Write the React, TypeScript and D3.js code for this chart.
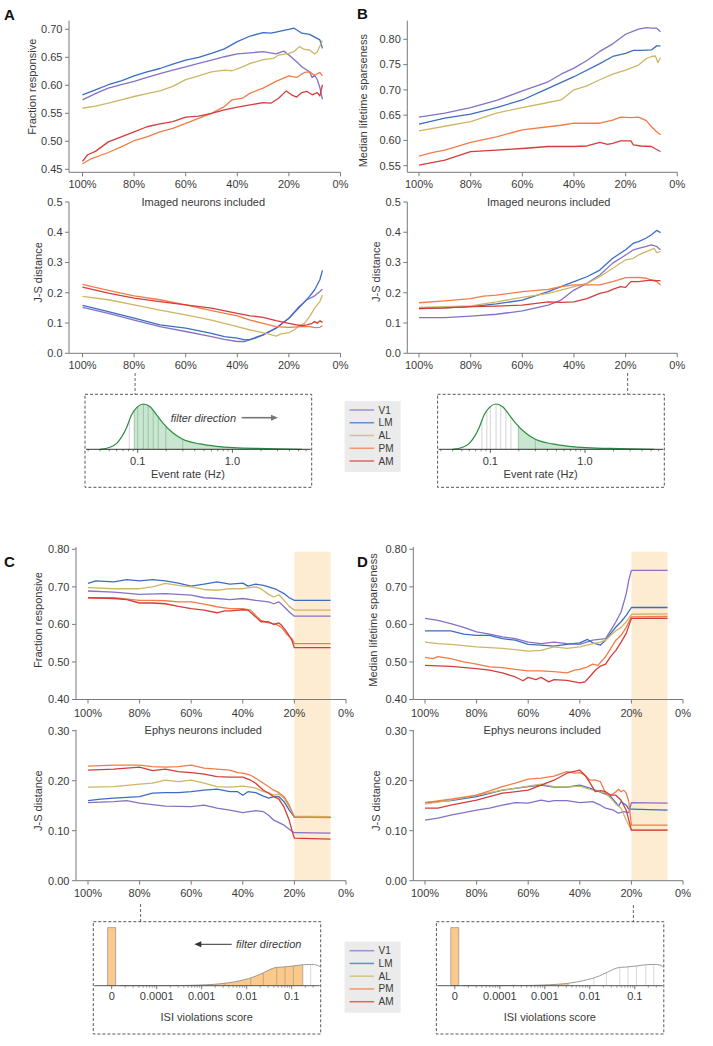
import React from "react";
import * as d3 from "d3";

type Pt = [number, number];

const AREAS = ["V1", "LM", "AL", "PM", "AM"];
const COLORS = ["#8571c6", "#3b6ec3", "#cdb665", "#f27c47", "#d53c3c"];

// ---------- Panel A (imaging, fraction responsive) ----------
const aFrV1: Pt[] = [[100,0.574],[95,0.585],[90,0.595],[85,0.601],[80,0.607],[75,0.614],[70,0.621],[65,0.627],[60,0.633],[55,0.639],[50,0.645],[45,0.651],[40,0.656],[35,0.658],[30,0.660],[25,0.656],[22,0.661],[20,0.654],[17,0.642],[15,0.633],[12,0.624],[11,0.614],[10,0.618],[9,0.610],[8,0.596],[7,0.575]];
const aFrLM: Pt[] = [[100,0.583],[95,0.592],[90,0.601],[85,0.608],[80,0.617],[75,0.624],[70,0.630],[65,0.638],[60,0.645],[55,0.650],[50,0.657],[45,0.665],[40,0.678],[35,0.688],[30,0.694],[27,0.693],[25,0.695],[22,0.698],[20,0.700],[18,0.702],[16,0.696],[15,0.693],[12,0.691],[10,0.686],[8,0.681],[7,0.666]];
const aFrAL: Pt[] = [[100,0.559],[95,0.563],[90,0.568],[85,0.574],[80,0.580],[75,0.585],[70,0.590],[65,0.598],[60,0.610],[55,0.617],[50,0.624],[45,0.627],[42,0.626],[38,0.633],[35,0.639],[30,0.646],[26,0.648],[24,0.654],[20,0.657],[18,0.660],[16,0.669],[14,0.664],[12,0.663],[10,0.656],[9,0.660],[7,0.680]];
const aFrPM: Pt[] = [[100,0.460],[97,0.468],[90,0.480],[85,0.490],[80,0.501],[75,0.508],[70,0.517],[65,0.523],[60,0.532],[55,0.541],[50,0.550],[45,0.562],[42,0.574],[38,0.577],[35,0.586],[30,0.595],[25,0.607],[20,0.617],[17,0.614],[14,0.623],[12,0.624],[10,0.618],[8,0.623],[7,0.617]];
const aFrAM: Pt[] = [[100,0.464],[98,0.476],[95,0.482],[90,0.499],[85,0.508],[80,0.517],[75,0.526],[70,0.531],[65,0.535],[60,0.543],[55,0.545],[50,0.550],[45,0.556],[40,0.561],[35,0.565],[30,0.569],[27,0.568],[24,0.577],[21,0.590],[19,0.583],[17,0.579],[15,0.587],[13,0.589],[11,0.583],[9,0.587],[8,0.581],[7,0.601]];

const aJsV1: Pt[] = [[100,0.152],[90,0.132],[80,0.110],[70,0.088],[60,0.072],[50,0.055],[45,0.046],[40,0.039],[37,0.039],[33,0.050],[30,0.061],[25,0.083],[20,0.116],[16,0.155],[13,0.177],[10,0.190],[8,0.204],[7,0.212]];
const aJsLM: Pt[] = [[100,0.158],[90,0.138],[80,0.116],[70,0.094],[60,0.083],[50,0.066],[45,0.055],[40,0.050],[37,0.044],[35,0.046],[30,0.061],[25,0.083],[20,0.116],[15,0.160],[12,0.188],[10,0.210],[8,0.243],[7,0.274]];
const aJsAL: Pt[] = [[100,0.188],[90,0.177],[80,0.160],[70,0.143],[60,0.127],[50,0.110],[40,0.088],[35,0.077],[32,0.072],[28,0.064],[25,0.057],[23,0.064],[20,0.068],[18,0.077],[16,0.091],[14,0.099],[12,0.121],[10,0.149],[8,0.171],[7,0.193]];
const aJsPM: Pt[] = [[100,0.228],[90,0.208],[80,0.190],[70,0.177],[60,0.160],[50,0.141],[40,0.124],[35,0.110],[30,0.099],[25,0.088],[20,0.086],[15,0.088],[12,0.088],[10,0.085],[8,0.086],[7,0.091]];
const aJsAM: Pt[] = [[100,0.219],[90,0.199],[80,0.182],[70,0.171],[60,0.160],[50,0.149],[40,0.132],[35,0.124],[30,0.119],[25,0.108],[20,0.099],[17,0.094],[15,0.091],[13,0.094],[11,0.099],[10,0.105],[9,0.099],[8,0.107],[7,0.102]];

// ---------- Panel B (imaging, lifetime sparseness) ----------
const bLsV1: Pt[] = [[100,0.646],[90,0.654],[80,0.665],[70,0.679],[60,0.698],[50,0.716],[45,0.731],[40,0.743],[35,0.758],[30,0.776],[25,0.791],[20,0.810],[17,0.816],[15,0.820],[12,0.823],[10,0.822],[8,0.822],[6.5,0.815]];
const bLsLM: Pt[] = [[100,0.632],[90,0.644],[80,0.652],[70,0.665],[60,0.680],[50,0.703],[40,0.726],[30,0.752],[25,0.766],[20,0.772],[17,0.778],[14,0.778],[10,0.779],[8,0.787],[6.5,0.787]];
const bLsAL: Pt[] = [[100,0.619],[90,0.628],[80,0.637],[70,0.654],[60,0.665],[50,0.675],[45,0.680],[40,0.700],[35,0.708],[30,0.720],[25,0.731],[20,0.739],[15,0.749],[12,0.762],[10,0.766],[8.5,0.767],[7.5,0.754],[6.5,0.764]];
const bLsPM: Pt[] = [[100,0.569],[95,0.576],[90,0.581],[80,0.596],[70,0.607],[60,0.621],[50,0.627],[45,0.630],[40,0.634],[30,0.634],[25,0.640],[22,0.646],[18,0.645],[15,0.646],[12,0.639],[10,0.627],[8,0.617],[6.5,0.611]];
const bLsAM: Pt[] = [[100,0.551],[90,0.561],[80,0.578],[70,0.581],[60,0.584],[50,0.588],[40,0.588],[35,0.589],[30,0.596],[27,0.592],[25,0.594],[22,0.599],[18,0.599],[17,0.591],[14,0.589],[10,0.588],[8,0.582],[6.5,0.578]];

const bJsV1: Pt[] = [[100,0.118],[90,0.118],[80,0.123],[70,0.129],[60,0.140],[50,0.159],[45,0.176],[40,0.209],[35,0.231],[30,0.259],[25,0.298],[20,0.325],[17,0.342],[15,0.347],[12,0.353],[10,0.358],[8,0.353],[6.5,0.342]];
const bJsLM: Pt[] = [[100,0.148],[90,0.150],[80,0.154],[70,0.163],[60,0.176],[50,0.204],[40,0.237],[35,0.253],[30,0.275],[25,0.314],[20,0.342],[17,0.364],[15,0.369],[12,0.381],[10,0.392],[8,0.406],[6.5,0.399]];
const bJsAL: Pt[] = [[100,0.152],[90,0.154],[80,0.157],[70,0.170],[60,0.185],[50,0.198],[45,0.209],[40,0.220],[35,0.231],[30,0.253],[25,0.281],[20,0.309],[17,0.314],[15,0.325],[12,0.336],[9,0.347],[8,0.333],[6.5,0.336]];
const bJsPM: Pt[] = [[100,0.167],[90,0.173],[80,0.181],[75,0.189],[70,0.192],[60,0.204],[50,0.211],[45,0.220],[40,0.226],[35,0.226],[30,0.226],[25,0.237],[20,0.250],[15,0.251],[12,0.248],[10,0.242],[8,0.237],[6.5,0.226]];
const bJsAM: Pt[] = [[100,0.148],[90,0.150],[80,0.154],[70,0.156],[60,0.159],[50,0.170],[45,0.168],[40,0.170],[35,0.181],[30,0.198],[27,0.204],[25,0.211],[22,0.220],[20,0.218],[18,0.237],[15,0.237],[12,0.240],[10,0.242],[8,0.240],[6.5,0.240]];

// ---------- Panel C (ephys, fraction responsive) ----------
const cFrV1: Pt[] = [[100,0.689],[90,0.686],[80,0.680],[70,0.682],[60,0.678],[55,0.671],[50,0.669],[45,0.666],[40,0.669],[35,0.664],[30,0.660],[28,0.655],[26,0.660],[24,0.647],[22,0.633],[20,0.622],[6,0.622]];
const cFrLM: Pt[] = [[100,0.709],[97,0.716],[90,0.713],[85,0.719],[80,0.716],[75,0.719],[70,0.716],[65,0.710],[60,0.702],[55,0.707],[50,0.713],[45,0.707],[40,0.710],[38,0.702],[35,0.707],[32,0.704],[30,0.700],[27,0.693],[24,0.682],[22,0.671],[20,0.664],[6,0.664]];
const cFrAL: Pt[] = [[100,0.698],[90,0.695],[80,0.695],[75,0.700],[70,0.709],[65,0.704],[60,0.700],[55,0.693],[50,0.691],[45,0.695],[40,0.695],[35,0.700],[33,0.695],[30,0.680],[28,0.673],[26,0.679],[24,0.664],[22,0.648],[20,0.638],[6,0.638]];
const cFrPM: Pt[] = [[100,0.671],[90,0.671],[80,0.664],[75,0.664],[70,0.663],[65,0.660],[60,0.660],[55,0.654],[50,0.647],[45,0.642],[40,0.642],[37,0.638],[35,0.624],[33,0.611],[30,0.604],[27,0.600],[25,0.592],[23,0.574],[21,0.562],[20,0.549],[6,0.549]];
const cFrAM: Pt[] = [[100,0.671],[90,0.669],[85,0.666],[80,0.657],[75,0.657],[70,0.655],[65,0.648],[60,0.642],[55,0.638],[50,0.631],[47,0.636],[45,0.636],[40,0.639],[38,0.638],[35,0.620],[33,0.607],[30,0.607],[28,0.600],[26,0.604],[25,0.598],[23,0.580],[21,0.558],[20,0.538],[6,0.538]];

const cJsV1: Pt[] = [[100,0.156],[90,0.158],[85,0.160],[80,0.155],[70,0.149],[60,0.148],[55,0.151],[50,0.145],[45,0.141],[40,0.136],[35,0.140],[32,0.138],[30,0.131],[28,0.121],[26,0.116],[24,0.111],[22,0.103],[20,0.096],[6,0.095]];
const cJsLM: Pt[] = [[100,0.160],[95,0.163],[90,0.165],[80,0.168],[75,0.175],[70,0.176],[65,0.176],[60,0.178],[55,0.181],[50,0.183],[45,0.178],[42,0.178],[40,0.171],[38,0.178],[35,0.176],[32,0.169],[30,0.165],[28,0.168],[26,0.168],[24,0.158],[22,0.141],[20,0.127],[6,0.127]];
const cJsAL: Pt[] = [[100,0.187],[90,0.188],[80,0.193],[75,0.195],[70,0.201],[65,0.198],[60,0.201],[55,0.195],[50,0.188],[45,0.187],[40,0.189],[37,0.187],[35,0.185],[32,0.178],[30,0.176],[28,0.171],[26,0.173],[24,0.165],[22,0.148],[20,0.129],[6,0.128]];
const cJsPM: Pt[] = [[100,0.229],[90,0.231],[80,0.231],[75,0.228],[70,0.227],[65,0.228],[60,0.231],[55,0.225],[50,0.223],[45,0.221],[42,0.216],[40,0.215],[37,0.211],[35,0.205],[32,0.195],[30,0.188],[28,0.181],[26,0.176],[24,0.168],[22,0.151],[20,0.127],[6,0.126]];
const cJsAM: Pt[] = [[100,0.221],[90,0.223],[80,0.227],[75,0.220],[70,0.223],[65,0.218],[60,0.216],[55,0.213],[50,0.208],[45,0.207],[40,0.207],[37,0.201],[35,0.195],[32,0.181],[30,0.175],[28,0.168],[26,0.163],[24,0.147],[22,0.121],[21,0.101],[20,0.085],[6,0.083]];

// ---------- Panel D (ephys, lifetime sparseness) ----------
const dLsV1: Pt[] = [[100,0.616],[95,0.611],[90,0.602],[85,0.592],[80,0.580],[75,0.574],[70,0.567],[65,0.562],[60,0.553],[55,0.549],[50,0.553],[45,0.549],[40,0.547],[35,0.558],[30,0.562],[28,0.584],[26,0.607],[24,0.633],[22,0.682],[21,0.718],[20,0.744],[6,0.744]];
const dLsLM: Pt[] = [[100,0.583],[90,0.583],[85,0.574],[80,0.571],[75,0.571],[70,0.562],[65,0.558],[60,0.547],[55,0.545],[50,0.542],[45,0.547],[40,0.551],[37,0.560],[35,0.551],[32,0.545],[30,0.558],[28,0.576],[26,0.593],[24,0.607],[22,0.624],[20,0.645],[6,0.645]];
const dLsAL: Pt[] = [[100,0.553],[95,0.549],[90,0.547],[80,0.540],[70,0.536],[65,0.533],[60,0.529],[55,0.531],[50,0.540],[45,0.536],[40,0.540],[35,0.549],[32,0.553],[30,0.558],[28,0.571],[26,0.583],[24,0.592],[22,0.607],[20,0.627],[6,0.628]];
const dLsPM: Pt[] = [[100,0.512],[97,0.509],[95,0.514],[90,0.509],[85,0.500],[80,0.494],[75,0.487],[70,0.485],[65,0.480],[60,0.476],[55,0.476],[50,0.474],[45,0.471],[42,0.478],[40,0.480],[37,0.487],[35,0.494],[33,0.491],[30,0.514],[28,0.536],[26,0.558],[24,0.571],[22,0.592],[20,0.620],[6,0.621]];
const dLsAM: Pt[] = [[100,0.491],[90,0.488],[80,0.482],[75,0.478],[70,0.471],[65,0.460],[62,0.450],[60,0.459],[57,0.453],[55,0.459],[52,0.447],[50,0.453],[45,0.451],[40,0.444],[38,0.447],[36,0.462],[34,0.478],[32,0.489],[30,0.494],[28,0.515],[26,0.531],[24,0.553],[22,0.576],[20,0.616],[6,0.616]];

const dJsV1: Pt[] = [[100,0.121],[95,0.125],[90,0.131],[80,0.141],[75,0.145],[70,0.151],[65,0.156],[60,0.155],[55,0.161],[52,0.158],[50,0.160],[45,0.160],[40,0.156],[35,0.158],[32,0.151],[30,0.145],[27,0.141],[25,0.135],[23,0.138],[21,0.136],[20,0.156],[6,0.155]];
const dJsLM: Pt[] = [[100,0.156],[90,0.160],[80,0.168],[70,0.181],[60,0.188],[55,0.191],[50,0.187],[45,0.187],[40,0.191],[35,0.183],[30,0.173],[28,0.168],[26,0.156],[25,0.149],[24,0.158],[22,0.151],[21,0.143],[20,0.143],[6,0.141]];
const dJsAL: Pt[] = [[100,0.153],[90,0.161],[80,0.171],[70,0.181],[60,0.189],[55,0.193],[50,0.188],[45,0.187],[40,0.189],[35,0.181],[30,0.175],[28,0.165],[26,0.153],[24,0.145],[22,0.121],[20,0.101],[6,0.101]];
const dJsPM: Pt[] = [[100,0.156],[90,0.163],[80,0.171],[70,0.188],[65,0.195],[60,0.203],[55,0.205],[50,0.209],[45,0.218],[42,0.215],[40,0.216],[38,0.211],[36,0.201],[34,0.201],[32,0.198],[30,0.175],[28,0.171],[26,0.178],[25,0.183],[24,0.178],[23,0.181],[22,0.175],[21,0.158],[20,0.111],[6,0.111]];
const dJsAM: Pt[] = [[100,0.145],[95,0.145],[90,0.151],[80,0.161],[70,0.175],[60,0.181],[55,0.191],[50,0.201],[45,0.215],[40,0.221],[38,0.211],[36,0.195],[34,0.178],[32,0.180],[30,0.178],[28,0.171],[26,0.171],[24,0.161],[22,0.141],[21,0.121],[20,0.101],[6,0.101]];

// ---------- Inset distributions ----------
const RATE_X = [0.040, 0.051, 0.060, 0.068, 0.077, 0.086, 0.098, 0.115, 0.135, 0.159, 0.186, 0.238, 0.299, 0.455, 0.682, 1.02, 2.30, 5.40];
const RATE_D = [0, 0.044, 0.132, 0.279, 0.5, 0.757, 0.926, 1.0, 0.941, 0.757, 0.574, 0.353, 0.221, 0.118, 0.066, 0.037, 0.015, 0];
const RATE_DECILES = [0.0815, 0.092, 0.100, 0.115, 0.129, 0.146, 0.165, 0.198, 0.299];
const RATE_TICKS = [0.1, 1];
const RATE_TICK_LABELS = ["0.1", "1.0"];

const ISI_X = [1.5e-5, 3.2e-4, 9.1e-4, 3.6e-3, 7.1e-3, 0.0167, 0.0234, 0.0464, 0.065, 0.109, 0.181, 0.278, 0.36, 0.44];
const ISI_D = [0, 0.003, 0.011, 0.046, 0.086, 0.172, 0.224, 0.316, 0.322, 0.340, 0.362, 0.367, 0.357, 0.322];
const ISI_ZERO_FRACTION = 1;
const ISI_DECILES = [0.0033, 0.0123, 0.0234, 0.0464, 0.071, 0.109, 0.176, 0.264];
const ISI_TICKS = [1e-5, 1e-4, 1e-3, 1e-2, 1e-1];
const ISI_TICK_LABELS = ["0", "0.0001", "0.001", "0.01", "0.1"];

const X_TICKS = [100, 80, 60, 40, 20, 0];

const FONT = "'Liberation Sans', Arial, Helvetica, sans-serif";
const AXIS = "#7a7a7a";
const TEXT = "#3a3a3a";

type PanelCfg = {
  yAxisX: number; x100: number; x0: number; xAxisY: number; yTop: number;
  yDom: [number, number]; yRange: [number, number]; ticks: number[]; fmt: string;
  series: Pt[][]; xTitle: string; xTitleX: number; xTitleY: number;
  yTitle: string; yTitleX: number; yTitleY: number; labelDy: number;
};

function LinePanel({ c }: { c: PanelCfg }) {
  const x = d3.scaleLinear().domain([100, 0]).range([c.x100, c.x0]);
  const y = d3.scaleLinear().domain(c.yDom).range(c.yRange);
  const line = d3.line<Pt>().x(d => x(d[0])).y(d => y(d[1]));
  const f = d3.format(c.fmt);
  return (
    <g>
      <line x1={c.yAxisX} x2={c.yAxisX} y1={c.xAxisY} y2={c.yTop} stroke={AXIS} strokeWidth={1} />
      <line x1={c.yAxisX} x2={x(0)} y1={c.xAxisY} y2={c.xAxisY} stroke={AXIS} strokeWidth={1} />
      {c.ticks.map(t => (
        <g key={"y" + t}>
          <line x1={c.yAxisX - 4} x2={c.yAxisX} y1={y(t)} y2={y(t)} stroke={AXIS} />
          <text x={c.yAxisX - 6.5} y={y(t)} dy="0.35em" textAnchor="end" fontSize={11} fill={TEXT}>{f(t)}</text>
        </g>
      ))}
      {X_TICKS.map(p => (
        <g key={"x" + p}>
          <line x1={x(p)} x2={x(p)} y1={c.xAxisY} y2={c.xAxisY + 4} stroke={AXIS} />
          <text x={x(p)} y={c.xAxisY + c.labelDy} dy="0.35em" textAnchor="middle" fontSize={11} fill={TEXT}>{p + "%"}</text>
        </g>
      ))}
      {c.series.map((s, i) => (
        <path key={i} d={line(s) || ""} fill="none" stroke={COLORS[i]} strokeWidth={1.3} strokeLinejoin="round" />
      ))}
      <text x={c.xTitleX} y={c.xTitleY} dy="0.35em" textAnchor="middle" fontSize={11} fill={TEXT}>{c.xTitle}</text>
      <text transform={`translate(${c.yTitleX},${c.yTitleY}) rotate(-90)`} dy="0.35em" textAnchor="middle" fontSize={11} fill={TEXT}>{c.yTitle}</text>
    </g>
  );
}

function Legend({ x, y }: { x: number; y: number }) {
  return (
    <g>
      <rect x={x} y={y} width={56} height={71} fill="#ebebeb" />
      {AREAS.map((a, i) => (
        <g key={a}>
          <line x1={x + 5} x2={x + 29.5} y1={y + 9 + i * 12.75} y2={y + 9 + i * 12.75} stroke={COLORS[i]} strokeOpacity={0.75} strokeWidth={1.5} />
          <text x={x + 34} y={y + 9 + i * 12.75} dy="0.35em" fontSize={10} fill={TEXT}>{a}</text>
        </g>
      ))}
    </g>
  );
}

function Arrow({ x1, x2, y, color, w }: { x1: number; x2: number; y: number; color: string; w: number }) {
  const dir = Math.sign(x2 - x1);
  return (
    <g>
      <line x1={x1} x2={x2 - dir * 5} y1={y} y2={y} stroke={color} strokeWidth={w} />
      <path d={`M${x2},${y} L${x2 - dir * 7},${y - 3} L${x2 - dir * 7},${y + 3} Z`} fill={color} />
    </g>
  );
}

function RateInset({ bx, by, shadeFrom, id, arrow }: { bx: number; by: number; shadeFrom: number; id: string; arrow: boolean }) {
  const W = 226.7, H = 93;
  const base = by + 55;
  const x = d3.scaleLog().domain([0.1, 1]).range([bx + 52.7, bx + 147.4]);
  const y = d3.scaleLinear().domain([0, 1]).range([base, base - 45.3]);
  const pts = RATE_X.map((r, i) => [r, RATE_D[i]] as Pt);
  const area = d3.area<Pt>().x(d => x(d[0])).y0(base).y1(d => y(d[1])).curve(d3.curveMonotoneX);
  const line = d3.line<Pt>().x(d => x(d[0])).y(d => y(d[1])).curve(d3.curveMonotoneX);
  const xs = x(shadeFrom);
  const minor: number[] = [];
  for (const dec of [0.01, 0.1, 1]) for (let k = 2; k <= 9; k++) {
    const v = dec * k; const px = x(v);
    if (px > bx + 2 && px < bx + W - 2) minor.push(v);
  }
  return (
    <g>
      <defs>
        <clipPath id={id + "area"}><path d={area(pts) || ""} /></clipPath>
        <clipPath id={id + "shade"}><rect x={xs} y={by} width={bx + W - xs} height={H} /></clipPath>
      </defs>
      <rect x={bx} y={by} width={W} height={H} fill="none" stroke="#444" strokeWidth={0.9} strokeDasharray="3,2" />
      <path d={area(pts) || ""} fill="#c9e6d0" clipPath={`url(#${id}shade)`} />
      <g clipPath={`url(#${id}area)`}>
        {RATE_DECILES.map(q => (
          <line key={q} x1={x(q)} x2={x(q)} y1={base} y2={base - 50} stroke={q >= shadeFrom - 1e-9 ? "#98c3a2" : "#cfcfcf"} strokeWidth={0.9} />
        ))}
      </g>
      <path d={line(pts) || ""} fill="none" stroke="#2b8f41" strokeWidth={1.2} />
      <line x1={bx + 1} x2={bx + W - 1} y1={base} y2={base} stroke="#333" strokeWidth={1} />
      {minor.map(v => <line key={v} x1={x(v)} x2={x(v)} y1={base} y2={base + 2} stroke="#333" strokeWidth={0.6} />)}
      {RATE_TICKS.map((t, i) => (
        <g key={t}>
          <line x1={x(t)} x2={x(t)} y1={base} y2={base + 3.5} stroke="#333" strokeWidth={0.8} />
          <text x={x(t)} y={base + 11.5} dy="0.35em" textAnchor="middle" fontSize={11} fill={TEXT}>{RATE_TICK_LABELS[i]}</text>
        </g>
      ))}
      <text x={bx + 103} y={base + 25} dy="0.35em" textAnchor="middle" fontSize={11} fill={TEXT}>Event rate (Hz)</text>
      {arrow && (
        <g>
          <text x={bx + 85.7} y={by + 23.4} dy="0.35em" fontSize={11} fontStyle="italic" fill={TEXT}>filter direction</text>
          <Arrow x1={bx + 156.7} x2={bx + 193} y={by + 23.4} color="#777" w={1.6} />
        </g>
      )}
    </g>
  );
}

function IsiInset({ bx, by, shadeTo, id, arrow }: { bx: number; by: number; shadeTo: number; id: string; arrow: boolean }) {
  const W = 227.4, H = 112.3;
  const base = by + 64;
  const x = d3.scaleLog().domain([1e-4, 1e-1]).range([bx + 63.4, bx + 198.4]);
  const y = d3.scaleLinear().domain([0, 1]).range([base, base - 58]);
  const pts = ISI_X.map((r, i) => [r, ISI_D[i]] as Pt);
  const area = d3.area<Pt>().x(d => x(d[0])).y0(base).y1(d => y(d[1])).curve(d3.curveMonotoneX);
  const line = d3.line<Pt>().x(d => x(d[0])).y(d => y(d[1])).curve(d3.curveMonotoneX);
  const xe = x(shadeTo);
  const minor: number[] = [];
  for (const dec of [1e-5, 1e-4, 1e-3, 1e-2, 1e-1]) for (let k = 2; k <= 9; k++) {
    const v = dec * k; const px = x(v);
    if (px > bx + 2 && px < bx + W - 2) minor.push(v);
  }
  const zx = x(1e-5);
  return (
    <g>
      <defs>
        <clipPath id={id + "area"}><path d={area(pts) || ""} /></clipPath>
        <clipPath id={id + "shade"}><rect x={bx} y={by} width={xe - bx} height={H} /></clipPath>
      </defs>
      <rect x={bx} y={by} width={W} height={H} fill="none" stroke="#444" strokeWidth={0.9} strokeDasharray="3,2" />
      <rect x={zx - 4} y={y(ISI_ZERO_FRACTION)} width={8} height={base - y(ISI_ZERO_FRACTION)} fill="#fdc98a" stroke="#9a9a9a" strokeWidth={0.8} />
      <path d={area(pts) || ""} fill="#fdc98a" clipPath={`url(#${id}shade)`} />
      <g clipPath={`url(#${id}area)`}>
        {ISI_DECILES.map(q => (
          <line key={q} x1={x(q)} x2={x(q)} y1={base} y2={base - 30} stroke={q <= shadeTo + 1e-12 ? "#b3a58f" : "#d6d6d6"} strokeWidth={0.9} />
        ))}
      </g>
      <path d={line(pts) || ""} fill="none" stroke="#9a9a9a" strokeWidth={1} />
      <line x1={bx + 1} x2={bx + W - 1} y1={base} y2={base} stroke="#555" strokeWidth={1} />
      {minor.map(v => <line key={v} x1={x(v)} x2={x(v)} y1={base} y2={base + 2} stroke="#555" strokeWidth={0.6} />)}
      {ISI_TICKS.map((t, i) => (
        <g key={t}>
          <line x1={x(t)} x2={x(t)} y1={base} y2={base + 3.5} stroke="#555" strokeWidth={0.8} />
          <text x={x(t)} y={base + 10} dy="0.35em" textAnchor="middle" fontSize={11} fill={TEXT}>{ISI_TICK_LABELS[i]}</text>
        </g>
      ))}
      <text x={bx + 113.4} y={base + 31.6} dy="0.35em" textAnchor="middle" fontSize={11} fill={TEXT}>ISI violations score</text>
      {arrow && (
        <g>
          <text x={bx + 142.7} y={by + 22.6} dy="0.35em" fontSize={11} fontStyle="italic" fill={TEXT}>filter direction</text>
          <Arrow x1={bx + 138.4} x2={bx + 101} y={by + 22.6} color="#333" w={1} />
        </g>
      )}
    </g>
  );
}

const panelA1: PanelCfg = { yAxisX: 69, x100: 82.5, x0: 340.5, xAxisY: 172.3, yTop: 20.7, yDom: [0.45, 0.70], yRange: [169.3, 29.3], ticks: [0.45, 0.50, 0.55, 0.60, 0.65, 0.70], fmt: ".2f", series: [aFrV1, aFrLM, aFrAL, aFrPM, aFrAM], xTitle: "Imaged neurons included", xTitleX: 203.3, xTitleY: 201.7, yTitle: "Fraction responsive", yTitleX: 31.7, yTitleY: 86.7, labelDy: 12 };
const panelA2: PanelCfg = { yAxisX: 69, x100: 82.5, x0: 340.5, xAxisY: 353.3, yTop: 202, yDom: [0, 0.5], yRange: [353.3, 202], ticks: [0, 0.1, 0.2, 0.3, 0.4, 0.5], fmt: ".1f", series: [aJsV1, aJsLM, aJsAL, aJsPM, aJsAM], xTitle: "", xTitleX: 0, xTitleY: 0, yTitle: "J-S distance", yTitleX: 38.3, yTitleY: 272.5, labelDy: 12 };
const panelB1: PanelCfg = { yAxisX: 407.3, x100: 419, x0: 677.3, xAxisY: 172.3, yTop: 20.7, yDom: [0.55, 0.80], yRange: [165.7, 39.3], ticks: [0.55, 0.60, 0.65, 0.70, 0.75, 0.80], fmt: ".2f", series: [bLsV1, bLsLM, bLsAL, bLsPM, bLsAM], xTitle: "Imaged neurons included", xTitleX: 548.7, xTitleY: 201.7, yTitle: "Median lifetime sparseness", yTitleX: 363.3, yTitleY: 100.7, labelDy: 12 };
const panelB2: PanelCfg = { yAxisX: 407.3, x100: 419, x0: 677.3, xAxisY: 353.3, yTop: 202, yDom: [0, 0.5], yRange: [353.3, 202], ticks: [0, 0.1, 0.2, 0.3, 0.4, 0.5], fmt: ".1f", series: [bJsV1, bJsLM, bJsAL, bJsPM, bJsAM], xTitle: "", xTitleX: 0, xTitleY: 0, yTitle: "J-S distance", yTitleX: 375.7, yTitleY: 271.7, labelDy: 12 };
const panelC1: PanelCfg = { yAxisX: 76, x100: 88, x0: 346, xAxisY: 699.5, yTop: 547, yDom: [0.40, 0.80], yRange: [699.5, 549.3], ticks: [0.40, 0.50, 0.60, 0.70, 0.80], fmt: ".2f", series: [cFrV1, cFrLM, cFrAL, cFrPM, cFrAM], xTitle: "Ephys neurons included", xTitleX: 203.3, xTitleY: 730, yTitle: "Fraction responsive", yTitleX: 38.3, yTitleY: 620, labelDy: 13.5 };
const panelC2: PanelCfg = { yAxisX: 76, x100: 88, x0: 346, xAxisY: 880.7, yTop: 730, yDom: [0, 0.30], yRange: [880.7, 730.7], ticks: [0, 0.10, 0.20, 0.30], fmt: ".2f", series: [cJsV1, cJsLM, cJsAL, cJsPM, cJsAM], xTitle: "", xTitleX: 0, xTitleY: 0, yTitle: "J-S distance", yTitleX: 38.3, yTitleY: 800.7, labelDy: 12.6 };
const panelD1: PanelCfg = { yAxisX: 413.3, x100: 425, x0: 683, xAxisY: 699.5, yTop: 547, yDom: [0.40, 0.80], yRange: [699.5, 549.3], ticks: [0.40, 0.50, 0.60, 0.70, 0.80], fmt: ".2f", series: [dLsV1, dLsLM, dLsAL, dLsPM, dLsAM], xTitle: "Ephys neurons included", xTitleX: 542.3, xTitleY: 730, yTitle: "Median lifetime sparseness", yTitleX: 373.3, yTitleY: 620, labelDy: 13.5 };
const panelD2: PanelCfg = { yAxisX: 413.3, x100: 425, x0: 683, xAxisY: 880.7, yTop: 730, yDom: [0, 0.30], yRange: [880.7, 730.7], ticks: [0, 0.10, 0.20, 0.30], fmt: ".2f", series: [dJsV1, dJsLM, dJsAL, dJsPM, dJsAM], xTitle: "", xTitleX: 0, xTitleY: 0, yTitle: "J-S distance", yTitleX: 375.7, yTitleY: 800.7, labelDy: 12.6 };

function Band({ x100, x0 }: { x100: number; x0: number }) {
  const x = d3.scaleLinear().domain([100, 0]).range([x100, x0]);
  return <rect x={x(20)} y={551.7} width={x(6) - x(20)} height={880.7 - 551.7} fill="#fdebd2" />;
}

function Connector({ x, y1, y2 }: { x: number; y1: number; y2: number }) {
  return <line x1={x} x2={x} y1={y1} y2={y2} stroke="#555" strokeWidth={0.9} strokeDasharray="3,2" />;
}

export default function App() {
  const xa = d3.scaleLinear().domain([100, 0]).range([82.5, 340.5]);
  const xb = d3.scaleLinear().domain([100, 0]).range([419, 677.3]);
  const xc = d3.scaleLinear().domain([100, 0]).range([88, 346]);
  const xd = d3.scaleLinear().domain([100, 0]).range([425, 683]);
  return (
    <svg width={713} height={1046} style={{ position: "absolute", left: 0, top: 0, background: "#fff" }} fontFamily={FONT}>
      <rect width={713} height={1046} fill="#fff" />
      <Band x100={425} x0={683} />
      <Band x100={88} x0={346} />
      <LinePanel c={panelA1} />
      <LinePanel c={panelA2} />
      <LinePanel c={panelB1} />
      <LinePanel c={panelB2} />
      <LinePanel c={panelC1} />
      <LinePanel c={panelC2} />
      <LinePanel c={panelD1} />
      <LinePanel c={panelD2} />

      <Connector x={xa(80) + 1} y1={373} y2={394.3} />
      <Connector x={xb(20) + 2} y1={373} y2={394.3} />
      <Connector x={xc(80) + 1} y1={904} y2={921.7} />
      <Connector x={xd(20) + 2} y1={905} y2={921.7} />

      <RateInset bx={85} by={394.3} shadeFrom={RATE_DECILES[1]} id="ra" arrow={true} />
      <RateInset bx={437.6} by={394.3} shadeFrom={RATE_DECILES[7]} id="rb" arrow={false} />
      <Legend x={344.6} y={401} />

      <IsiInset bx={93.3} by={921.7} shadeTo={ISI_DECILES[6]} id="ic" arrow={true} />
      <IsiInset bx={436.4} by={921.7} shadeTo={ISI_DECILES[0]} id="id" arrow={false} />
      <Legend x={344.6} y={941.7} />

      <text x={4} y={20} fontSize={15} fontWeight="bold" fill="#111">A</text>
      <text x={357} y={19} fontSize={15} fontWeight="bold" fill="#111">B</text>
      <text x={4} y={567} fontSize={15} fontWeight="bold" fill="#111">C</text>
      <text x={357} y={567} fontSize={15} fontWeight="bold" fill="#111">D</text>
    </svg>
  );
}
